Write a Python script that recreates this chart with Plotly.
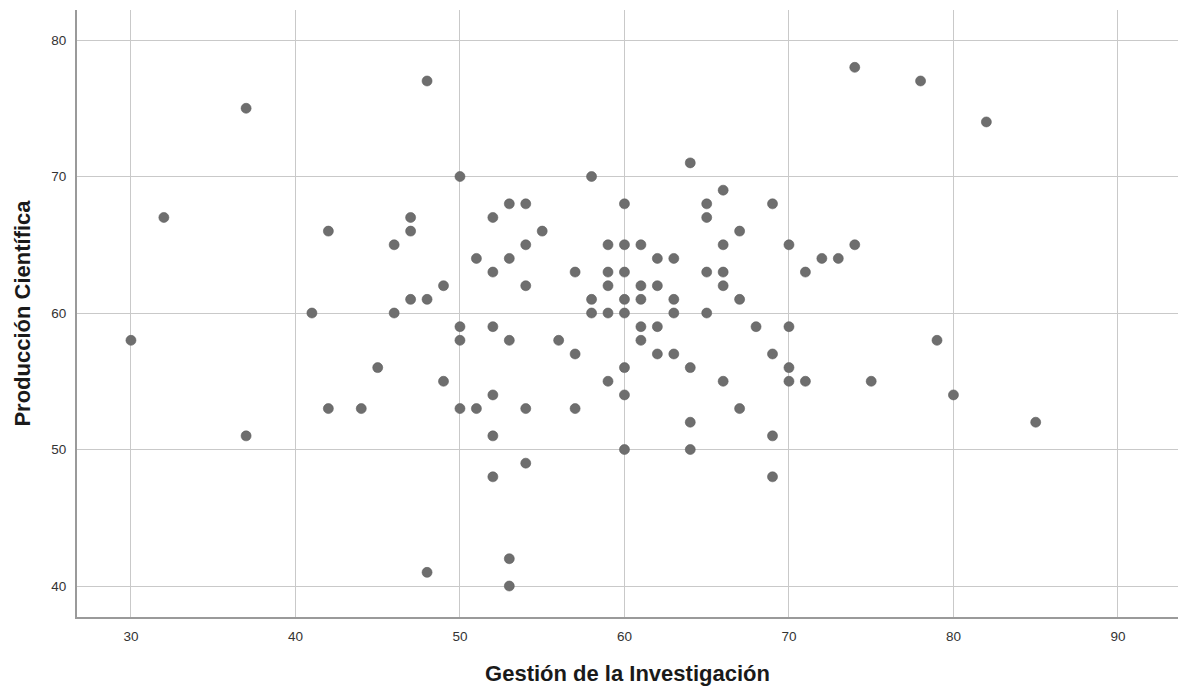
import plotly.graph_objects as go

# Gestión de la Investigación (x) and Producción Científica (y)
gestion = [
    30, 32, 37, 37, 41, 42, 42, 44, 45, 46, 46,
    47, 47, 47, 48, 48, 48, 49, 49,
    50, 50, 50, 50, 51, 51,
    52, 52, 52, 52, 52, 52,
    53, 53, 53, 53, 53,
    54, 54, 54, 54, 54,
    55, 56, 57, 57, 57, 58, 58, 58,
    59, 59, 59, 59, 59,
    60, 60, 60, 60, 60, 60, 60, 60,
    61, 61, 61, 61, 61,
    62, 62, 62, 62,
    63, 63, 63, 63,
    64, 64, 64, 64,
    65, 65, 65, 65,
    66, 66, 66, 66, 66,
    67, 67, 67, 68,
    69, 69, 69, 69,
    70, 70, 70, 70,
    71, 71, 72, 73, 74, 74, 75, 78, 79, 80, 82, 85,
]
produccion = [
    58, 67, 75, 51, 60, 66, 53, 53, 56, 65, 60,
    67, 66, 61, 77, 61, 41, 62, 55,
    70, 59, 58, 53, 64, 53,
    67, 63, 59, 54, 51, 48,
    68, 64, 58, 42, 40,
    68, 65, 62, 53, 49,
    66, 58, 63, 57, 53, 70, 61, 60,
    65, 63, 62, 60, 55,
    68, 65, 63, 61, 60, 56, 54, 50,
    65, 62, 61, 59, 58,
    64, 62, 59, 57,
    64, 61, 60, 57,
    71, 56, 52, 50,
    68, 67, 63, 60,
    69, 65, 63, 62, 55,
    66, 61, 53, 59,
    68, 57, 51, 48,
    65, 59, 56, 55,
    63, 55, 64, 64, 78, 65, 55, 77, 58, 54, 74, 52,
]

x_ticks = [30, 40, 50, 60, 70, 80, 90]
y_ticks = [40, 50, 60, 70, 80]
x_title = "Gestión de la Investigación"
y_title = "Producción Científica"

fig = go.Figure(
    go.Scatter(
        x=gestion,
        y=produccion,
        mode="markers",
        marker=dict(size=10, color="#6e6e6e", line=dict(width=0.6, color="#5e5e5e")),
        showlegend=False,
        hoverinfo="x+y",
    )
)

font_family = "Liberation Sans, Arial, sans-serif"

fig.update_layout(
    width=1181,
    height=686,
    margin=dict(l=77, r=3, t=10, b=69),
    paper_bgcolor="white",
    plot_bgcolor="white",
    font=dict(family=font_family, color="#333333"),
)

fig.update_xaxes(
    range=[26.72, 93.65],
    tickvals=x_ticks,
    ticktext=[str(v) for v in x_ticks],
    tickfont=dict(size=13.5, color="#333333"),
    ticks="",
    ticklabelstandoff=6,
    showgrid=True,
    gridcolor="#c9c9c9",
    gridwidth=1,
    zeroline=False,
    showline=True,
    linecolor="#9a9a9a",
    linewidth=2,
    title=dict(text=x_title, font=dict(size=22, color="#1a1a1a", family=font_family, weight="bold"), standoff=23),
)
fig.update_yaxes(
    range=[37.73, 82.2],
    tickvals=y_ticks,
    ticktext=[str(v) for v in y_ticks],
    tickfont=dict(size=13.5, color="#333333"),
    ticks="",
    ticklabelstandoff=6,
    showgrid=True,
    gridcolor="#c9c9c9",
    gridwidth=1,
    zeroline=False,
    showline=True,
    linecolor="#9a9a9a",
    linewidth=2,
    title=dict(text=y_title, font=dict(size=22, color="#1a1a1a", family=font_family, weight="bold"), standoff=15),
)

fig.write_html(
    "out.html",
    config={"displayModeBar": False},
    post_script="document.body.style.margin='0';document.body.style.overflow='hidden';",
)
